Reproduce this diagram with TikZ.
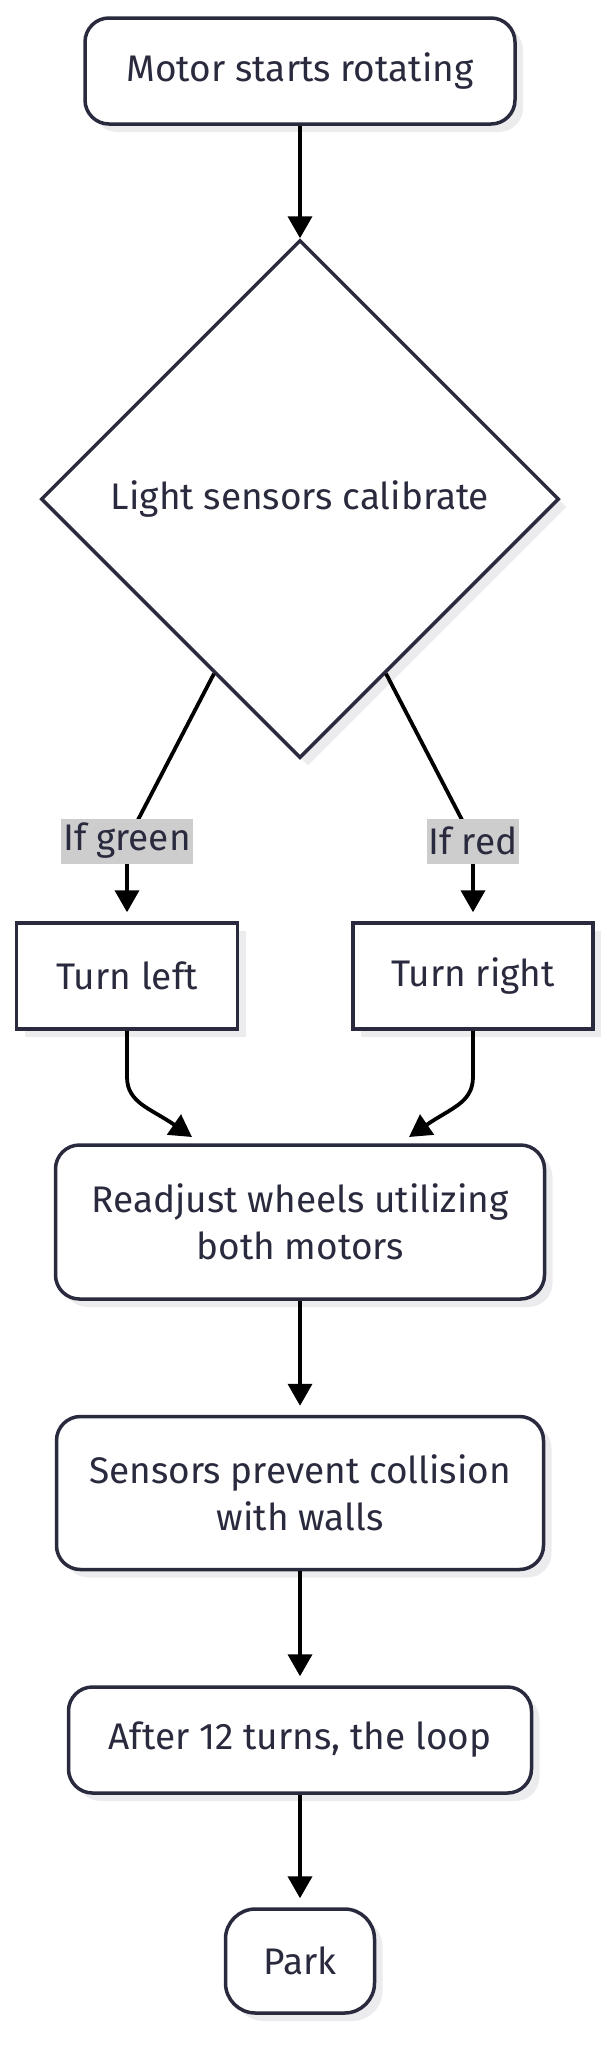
\documentclass[tikz,border=0pt]{standalone}
\usepackage{fontspec}
\setmainfont{Fira Sans}
\usetikzlibrary{shapes.geometric,arrows.meta,shadows,calc}
\definecolor{ink}{RGB}{42,42,62}
\definecolor{shade}{RGB}{236,236,238}
\definecolor{lblbg}{RGB}{205,205,205}
\begin{document}
\begin{tikzpicture}[x=1pt,y=-1pt,
  txt/.style={text=ink, font=\fontsize{37}{47}\selectfont, align=center},
  box/.style={txt, draw=ink, line width=3.5pt, fill=white, inner sep=0pt,
    drop shadow={shadow xshift=8pt, shadow yshift=-8pt, fill=shade, opacity=1}},
  rbox/.style={box, rounded corners=24pt},
  dia/.style={box, diamond, shape aspect=1},
  lbl/.style={txt, fill=lblbg, inner xsep=2pt, inner ysep=0pt, minimum height=45pt},
  line/.style={draw=black, line width=3.8pt},
  conn/.style={line, -{Triangle[length=22pt,width=24pt]}},
  gap/.style={shorten >=9pt}]
\useasboundingbox (0,0) rectangle (615,2048);

\node[rbox, minimum width=430pt, minimum height=106pt] (n1) at (300,71) {Motor starts rotating};
\node[dia, minimum width=518pt, minimum height=518pt] (d) at (300,499) {Light sensors calibrate};
\node[box, minimum width=221pt, minimum height=106pt] (tl) at (127,976) {Turn left};
\node[box, minimum width=240pt, minimum height=106pt] (tr) at (473,976) {Turn right};
\node[rbox, minimum width=489pt, minimum height=154pt] (rj) at (300,1222) {Readjust wheels utilizing\\both motors};
\node[rbox, minimum width=487pt, minimum height=153pt] (sp) at (300,1493) {Sensors prevent collision\\with walls};
\node[rbox, minimum width=463pt, minimum height=106pt] (af) at (300,1740) {After 12 turns, the loop};
\node[rbox, rounded corners=30pt, minimum width=149pt, minimum height=104pt] (pk) at (300,1961) {Park};

\coordinate (dL) at ($(d.south)!0.33!(d.west)$);
\coordinate (dR) at ($(d.south)!0.33!(d.east)$);
\coordinate (lgc) at (127,841);
\coordinate (lrc) at (473,841);
\coordinate (rjL) at (192,1137);
\coordinate (rjR) at (409,1137);

\draw[conn] (n1.south) -- (d.north);
\draw[conn, gap] (dL) -- (lgc) node[lbl] (lg) {If green} -- (tl.north);
\draw[conn, gap] (dR) -- (lrc) node[lbl] (lr) {If red} -- (tr.north);
\draw[conn] (tl.south) -- ++(0,46) .. controls ++(0,26) and (150,1108) .. (rjL);
\draw[conn] (tr.south) -- ++(0,46) .. controls ++(0,26) and (451,1108) .. (rjR);
\draw[conn, gap] (rj.south) -- (sp.north);
\draw[conn, gap] (sp.south) -- (af.north);
\draw[conn, gap] (af.south) -- (pk.north);
\end{tikzpicture}
\end{document}
